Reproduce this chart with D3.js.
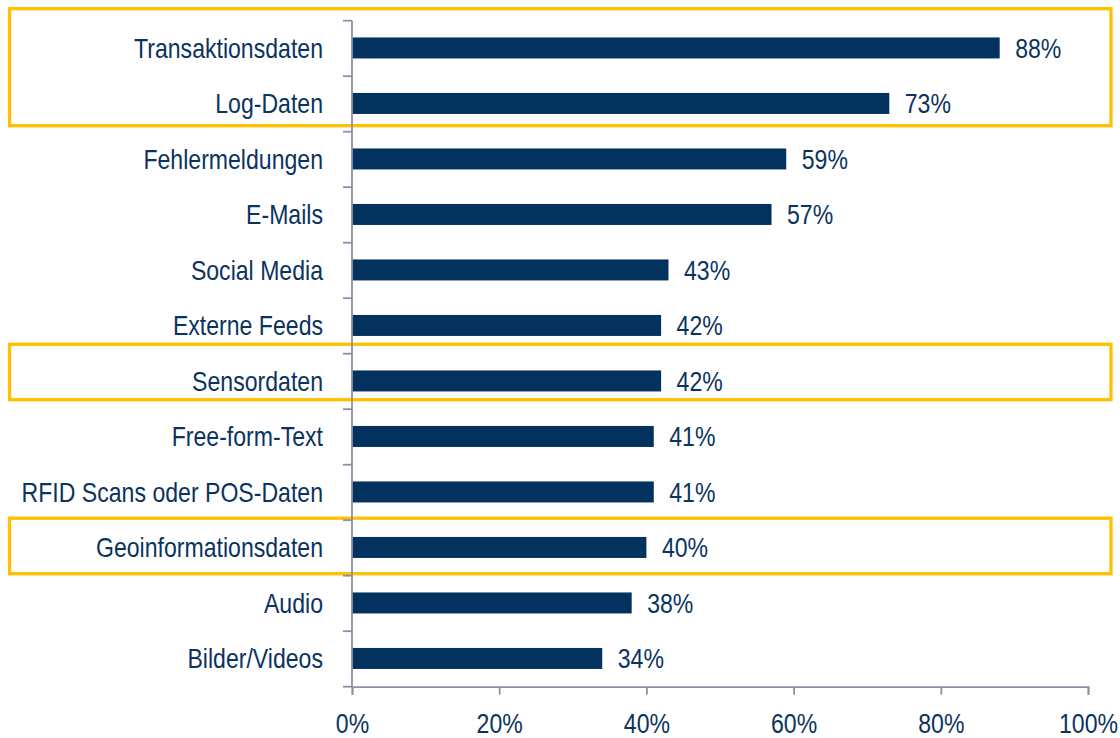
<!DOCTYPE html>
<html>
<head>
<meta charset="utf-8">
<script src="https://cdn.jsdelivr.net/npm/d3@7"></script>
<style>
  html, body { margin: 0; padding: 0; background: #ffffff; }
  svg { display: block; }
  text { font-family: "Liberation Sans", Arial, sans-serif; fill: #0b335f; }
</style>
</head>
<body>
<script>
// ---- data ----
const categories = [
  "Transaktionsdaten", "Log-Daten", "Fehlermeldungen", "E-Mails", "Social Media",
  "Externe Feeds", "Sensordaten", "Free-form-Text", "RFID Scans oder POS-Daten",
  "Geoinformationsdaten", "Audio", "Bilder/Videos"
];
const values = [88, 73, 59, 57, 43, 42, 42, 41, 41, 40, 38, 34];
const xTicks = [0, 20, 40, 60, 80, 100];
const xTickLabels = ["0%", "20%", "40%", "60%", "80%", "100%"];
// highlighted groups (first and last category of each box)
const highlightFirst = ["Transaktionsdaten", "Sensordaten", "Geoinformationsdaten"];
const highlightLast = ["Log-Daten", "Sensordaten", "Geoinformationsdaten"];

// ---- layout / style ----
const W = 1120, H = 738;
const plot = { left: 352, right: 1088, top: 20.7, bottom: 686.7 };
const navy = "#03325f";
const axisGrey = "#8c90a2";
const yellow = "#ffc000";
const fontSize = 27;
const narrowScale = 0.855;   // emulate a narrow (condensed) face
// hand-placed nudges of the highlight boxes [top, bottom] in px
const boxNudge = [[-12, -6], [-9.4, -9.5], [-2, -2]];

const svg = d3.select("body").append("svg").attr("width", W).attr("height", H);

const x = d3.scaleLinear().domain([0, 100]).range([plot.left, plot.right]);
const y = d3.scaleBand().domain(categories).range([plot.top, plot.bottom]).paddingInner(0).paddingOuter(0);
const bw = y.bandwidth();
const barH = 21;

function narrowText(sel, fx, fy) {
  sel.attr("x", 0).attr("y", 0)
    .attr("font-size", fontSize)
    .attr("transform", (d, i) => `translate(${fx(d, i)},${fy(d, i)}) scale(${narrowScale},1)`);
}

// highlight boxes (behind)
const boxes = highlightFirst.map((f, i) => ({ first: f, last: highlightLast[i], nudge: boxNudge[i] }));
svg.append("g").selectAll("rect").data(boxes).join("rect")
  .attr("x", 9.5)
  .attr("width", 1111 - 9.5)
  .attr("y", d => y(d.first) + d.nudge[0])
  .attr("height", d => (y(d.last) + bw + d.nudge[1]) - (y(d.first) + d.nudge[0]))
  .attr("fill", "none")
  .attr("stroke", yellow)
  .attr("stroke-width", 3.3);

// bars
svg.append("g").selectAll("rect").data(categories).join("rect")
  .attr("x", x(0))
  .attr("y", d => y(d) + bw / 2 - barH / 2 - 0.5)
  .attr("width", (d, i) => x(values[i]) - x(0))
  .attr("height", barH)
  .attr("fill", navy);

// value labels
svg.append("g").selectAll("text").data(categories).join("text")
  .call(narrowText, (d, i) => x(values[i]) + 15.5, d => y(d) + bw / 2 + 9.5)
  .text((d, i) => values[i] + "%");

// y axis (category labels, ticks at band boundaries)
const yAxis = svg.append("g");
yAxis.append("line")
  .attr("x1", plot.left).attr("x2", plot.left)
  .attr("y1", plot.top).attr("y2", plot.bottom)
  .attr("stroke", axisGrey).attr("stroke-width", 1.8);
const boundaries = categories.map(c => y(c)).concat([plot.bottom]);
yAxis.selectAll("line.tick").data(boundaries).join("line")
  .attr("class", "tick")
  .attr("x1", plot.left - 9).attr("x2", plot.left)
  .attr("y1", d => d).attr("y2", d => d)
  .attr("stroke", axisGrey).attr("stroke-width", 1.8);
yAxis.selectAll("text").data(categories).join("text")
  .attr("text-anchor", "end")
  .call(narrowText, () => plot.left - 29, d => y(d) + bw / 2 + 9.5)
  .text(d => d);

// x axis
const xAxis = svg.append("g").attr("transform", `translate(0,${plot.bottom})`)
  .call(d3.axisBottom(x).tickValues(xTicks).tickFormat((d, i) => xTickLabels[i]).tickSize(8).tickPadding(0));
xAxis.select(".domain").attr("stroke", axisGrey).attr("stroke-width", 1.8);
xAxis.selectAll(".tick line").attr("stroke", axisGrey).attr("stroke-width", 1.8);
xAxis.attr("font-family", null).attr("font-size", null);
xAxis.selectAll(".tick text")
  .attr("fill", navy)
  .attr("dy", null)
  .attr("font-size", fontSize)
  .attr("x", 0).attr("y", 0)
  .attr("transform", `translate(0,46) scale(${narrowScale},1)`);
</script>
</body>
</html>
